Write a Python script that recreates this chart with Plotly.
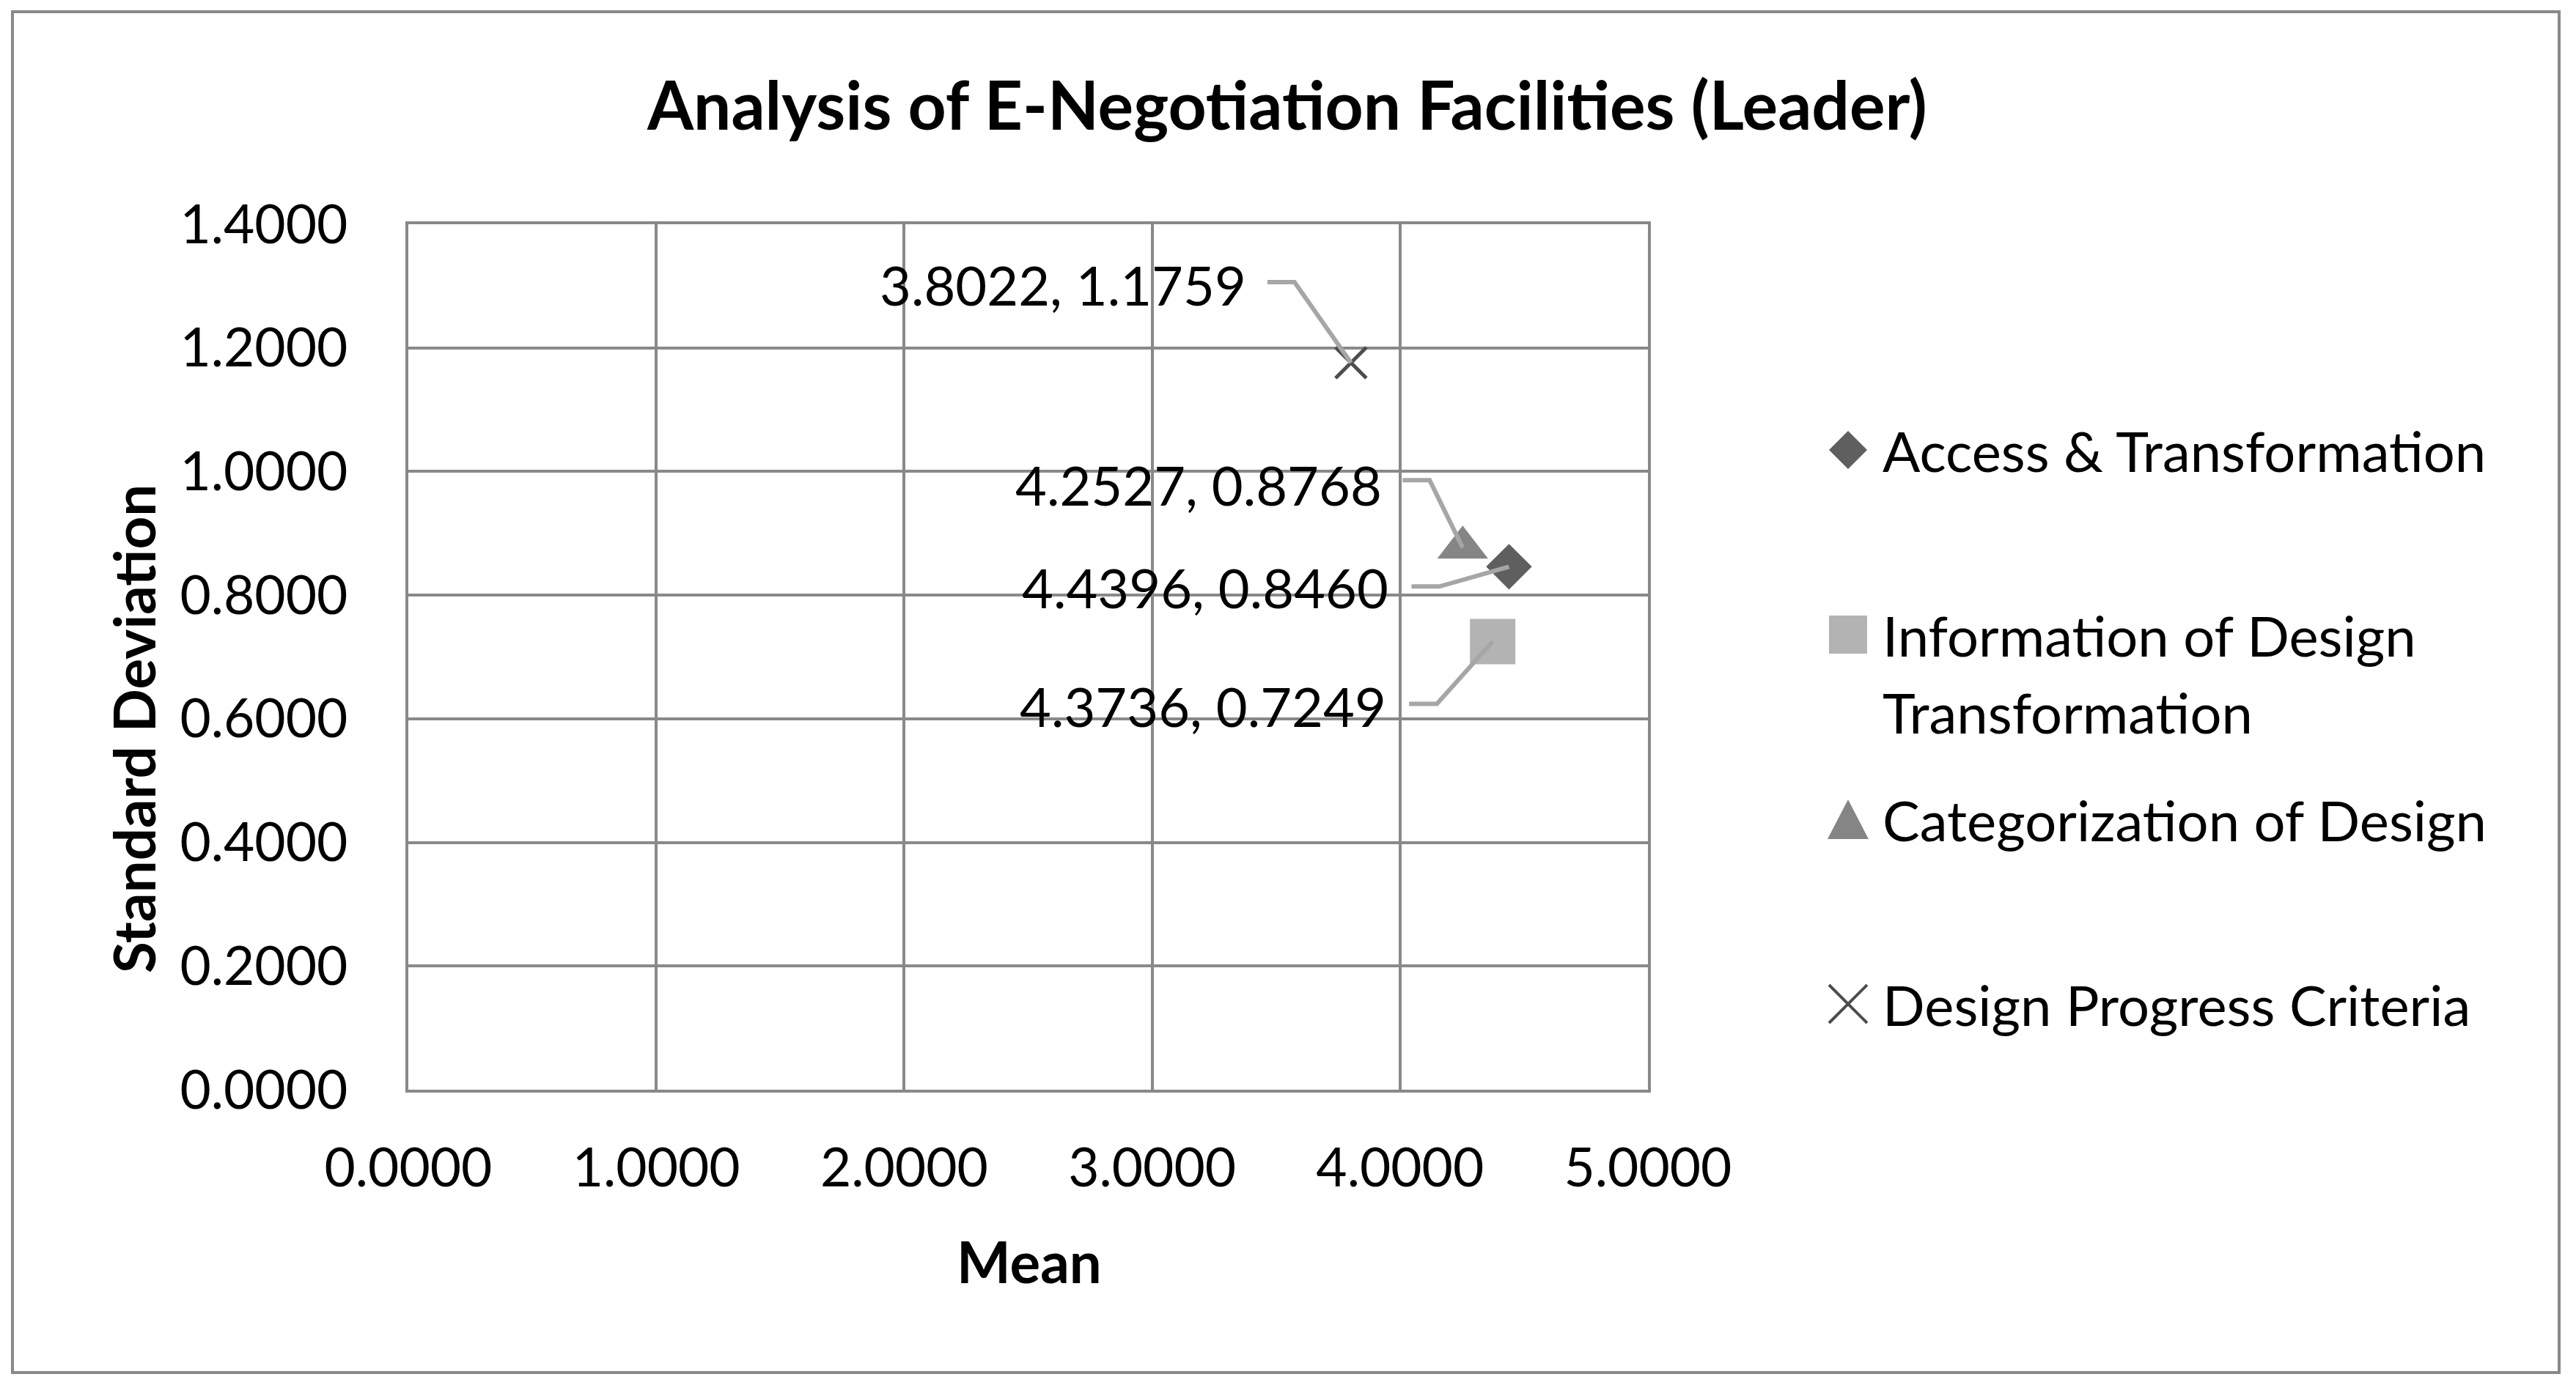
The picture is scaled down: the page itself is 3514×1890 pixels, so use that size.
import plotly.graph_objects as go

# ---------------- data ----------------
series = ["Access & Transformation", "Information of Design Transformation",
          "Categorization of Design", "Design Progress Criteria"]
means = [4.4396, 4.3736, 4.2527, 3.8022]
sds = [0.8460, 0.7249, 0.8768, 1.1759]
legend_lines = [["Access & Transformation"], ["Information of Design", "Transformation"],
                ["Categorization of Design"], ["Design Progress Criteria"]]

title_text = "Analysis of E-Negotiation Facilities (Leader)"
x_title = "Mean"
y_title = "Standard Deviation"

# ---------------- styles ----------------
OFF = 8  # page body margin of the html page
W_PX, H_PX = 3514 - OFF, 1890 - OFF
# plot-area edges in screen pixels
L, R, T, B = 557, 2248, 306, 1487
PW, PH = R - L, B - T

FONT = "Lato"
TXT = 73
GRID = "#898989"
LEADER = "#a6a6a6"

symbols = ["diamond", "square", "triangle-up", "x-thin"]
sizes = [48, 62, 60, 42]
colors = ["#5f5f5f", "#b3b3b3", "#858585", "#4d4d4d"]

# data label placement (pixel offsets from the point; y up)
label_shift = [(-162, -28), (-143, -88), (-108, 86), (-141, 107)]
leader_paths = ["M -133,-27 L -95,-27 L 0,0",
                "M -114,-85 L -76,-85 L 0,0",
                "M -82,92 L -45,92 L 0,0",
                "M -114,110 L -77,110 L 0,0"]


def px(x):
    return (x - L) / PW


def py(y):
    return (B - y) / PH


fig = go.Figure()
for name, m, s, sym, sz, col in zip(series, means, sds, symbols, sizes, colors):
    if sym == "x-thin":
        marker = dict(symbol=sym, size=sz, color=col, line=dict(color=col, width=5))
    else:
        marker = dict(symbol=sym, size=sz, color=col, line=dict(width=0))
    fig.add_trace(go.Scatter(x=[m], y=[s], mode="markers", name=name,
                             marker=marker, showlegend=False))

annotations = []
shapes = []

# data labels + leader lines
for m, s, (dx, dy), path in zip(means, sds, label_shift, leader_paths):
    annotations.append(dict(x=m, y=s, xref="x", yref="y", text=f"{m:.4f}, {s:.4f}",
                            showarrow=False, xanchor="right", yanchor="middle",
                            xshift=dx, yshift=dy,
                            font=dict(family=FONT, size=74, color="black")))
    shapes.append(dict(type="path", xref="x", yref="y", xsizemode="pixel", ysizemode="pixel",
                       xanchor=m, yanchor=s, path=path, layer="above",
                       line=dict(color=LEADER, width=6)))

# title and axis titles
annotations.append(dict(x=px(1755), y=py(141), xref="paper", yref="paper", text=title_text,
                        showarrow=False, xanchor="center", yanchor="middle",
                        font=dict(family=FONT, size=91, color="black", weight="bold")))
annotations.append(dict(x=px(1404), y=py(1721), xref="paper", yref="paper", text=x_title,
                        showarrow=False, xanchor="center", yanchor="middle",
                        font=dict(family=FONT, size=78, color="black", weight="bold")))
annotations.append(dict(x=px(182), y=py(995), xref="paper", yref="paper", text=y_title,
                        showarrow=False, xanchor="center", yanchor="middle", textangle=-90,
                        font=dict(family=FONT, size=78, color="black", weight="bold")))

# legend (symbols + text)
leg_x = 2521
leg_y = [614, 866, 1118, 1370]
line_gap = 105
sym_paths = ["M -26,0 L 0,26 L 26,0 L 0,-26 Z",
             "M -26,-26 L 26,-26 L 26,26 L -26,26 Z",
             "M -28,-27 L 28,-27 L 0,27 Z",
             "M -26,-26 L 26,26 M -26,26 L 26,-26"]
for i, (lines, y0) in enumerate(zip(legend_lines, leg_y)):
    if i == 3:
        shapes.append(dict(type="path", xref="paper", yref="paper", xsizemode="pixel",
                           ysizemode="pixel", xanchor=px(leg_x), yanchor=py(y0),
                           path=sym_paths[i], line=dict(color=colors[i], width=4)))
    else:
        shapes.append(dict(type="path", xref="paper", yref="paper", xsizemode="pixel",
                           ysizemode="pixel", xanchor=px(leg_x), yanchor=py(y0),
                           path=sym_paths[i], fillcolor=colors[i], line=dict(width=0)))
    for k, ln in enumerate(lines):
        annotations.append(dict(x=px(2566), y=py(y0 + k * line_gap), xref="paper", yref="paper",
                                text=ln, showarrow=False, xanchor="left", yanchor="middle",
                                font=dict(family=FONT, size=76, color="black")))

# outer chart border
shapes.append(dict(type="rect", xref="paper", yref="paper", x0=px(17), x1=px(3491),
                   y0=py(1873), y1=py(16), line=dict(color=GRID, width=4), layer="below"))

axis_common = dict(showgrid=True, gridcolor=GRID, gridwidth=4, zeroline=False,
                   showline=True, linecolor=GRID, linewidth=4, mirror=True,
                   ticks="", tickformat=".4f",
                   tickfont=dict(family=FONT, size=TXT, color="black"))

fig.update_layout(
    width=W_PX, height=H_PX,
    margin=dict(l=L - OFF, r=W_PX - (R - OFF), t=T - OFF, b=H_PX - (B - OFF), pad=0),
    paper_bgcolor="white", plot_bgcolor="white",
    xaxis=dict(range=[0, 5], dtick=1, tick0=0, ticklabelstandoff=40, **axis_common),
    yaxis=dict(range=[0, 1.4], dtick=0.2, tick0=0, ticklabelstandoff=64, **axis_common),
    annotations=annotations, shapes=shapes, showlegend=False,
)

fig.write_html("out.html")
